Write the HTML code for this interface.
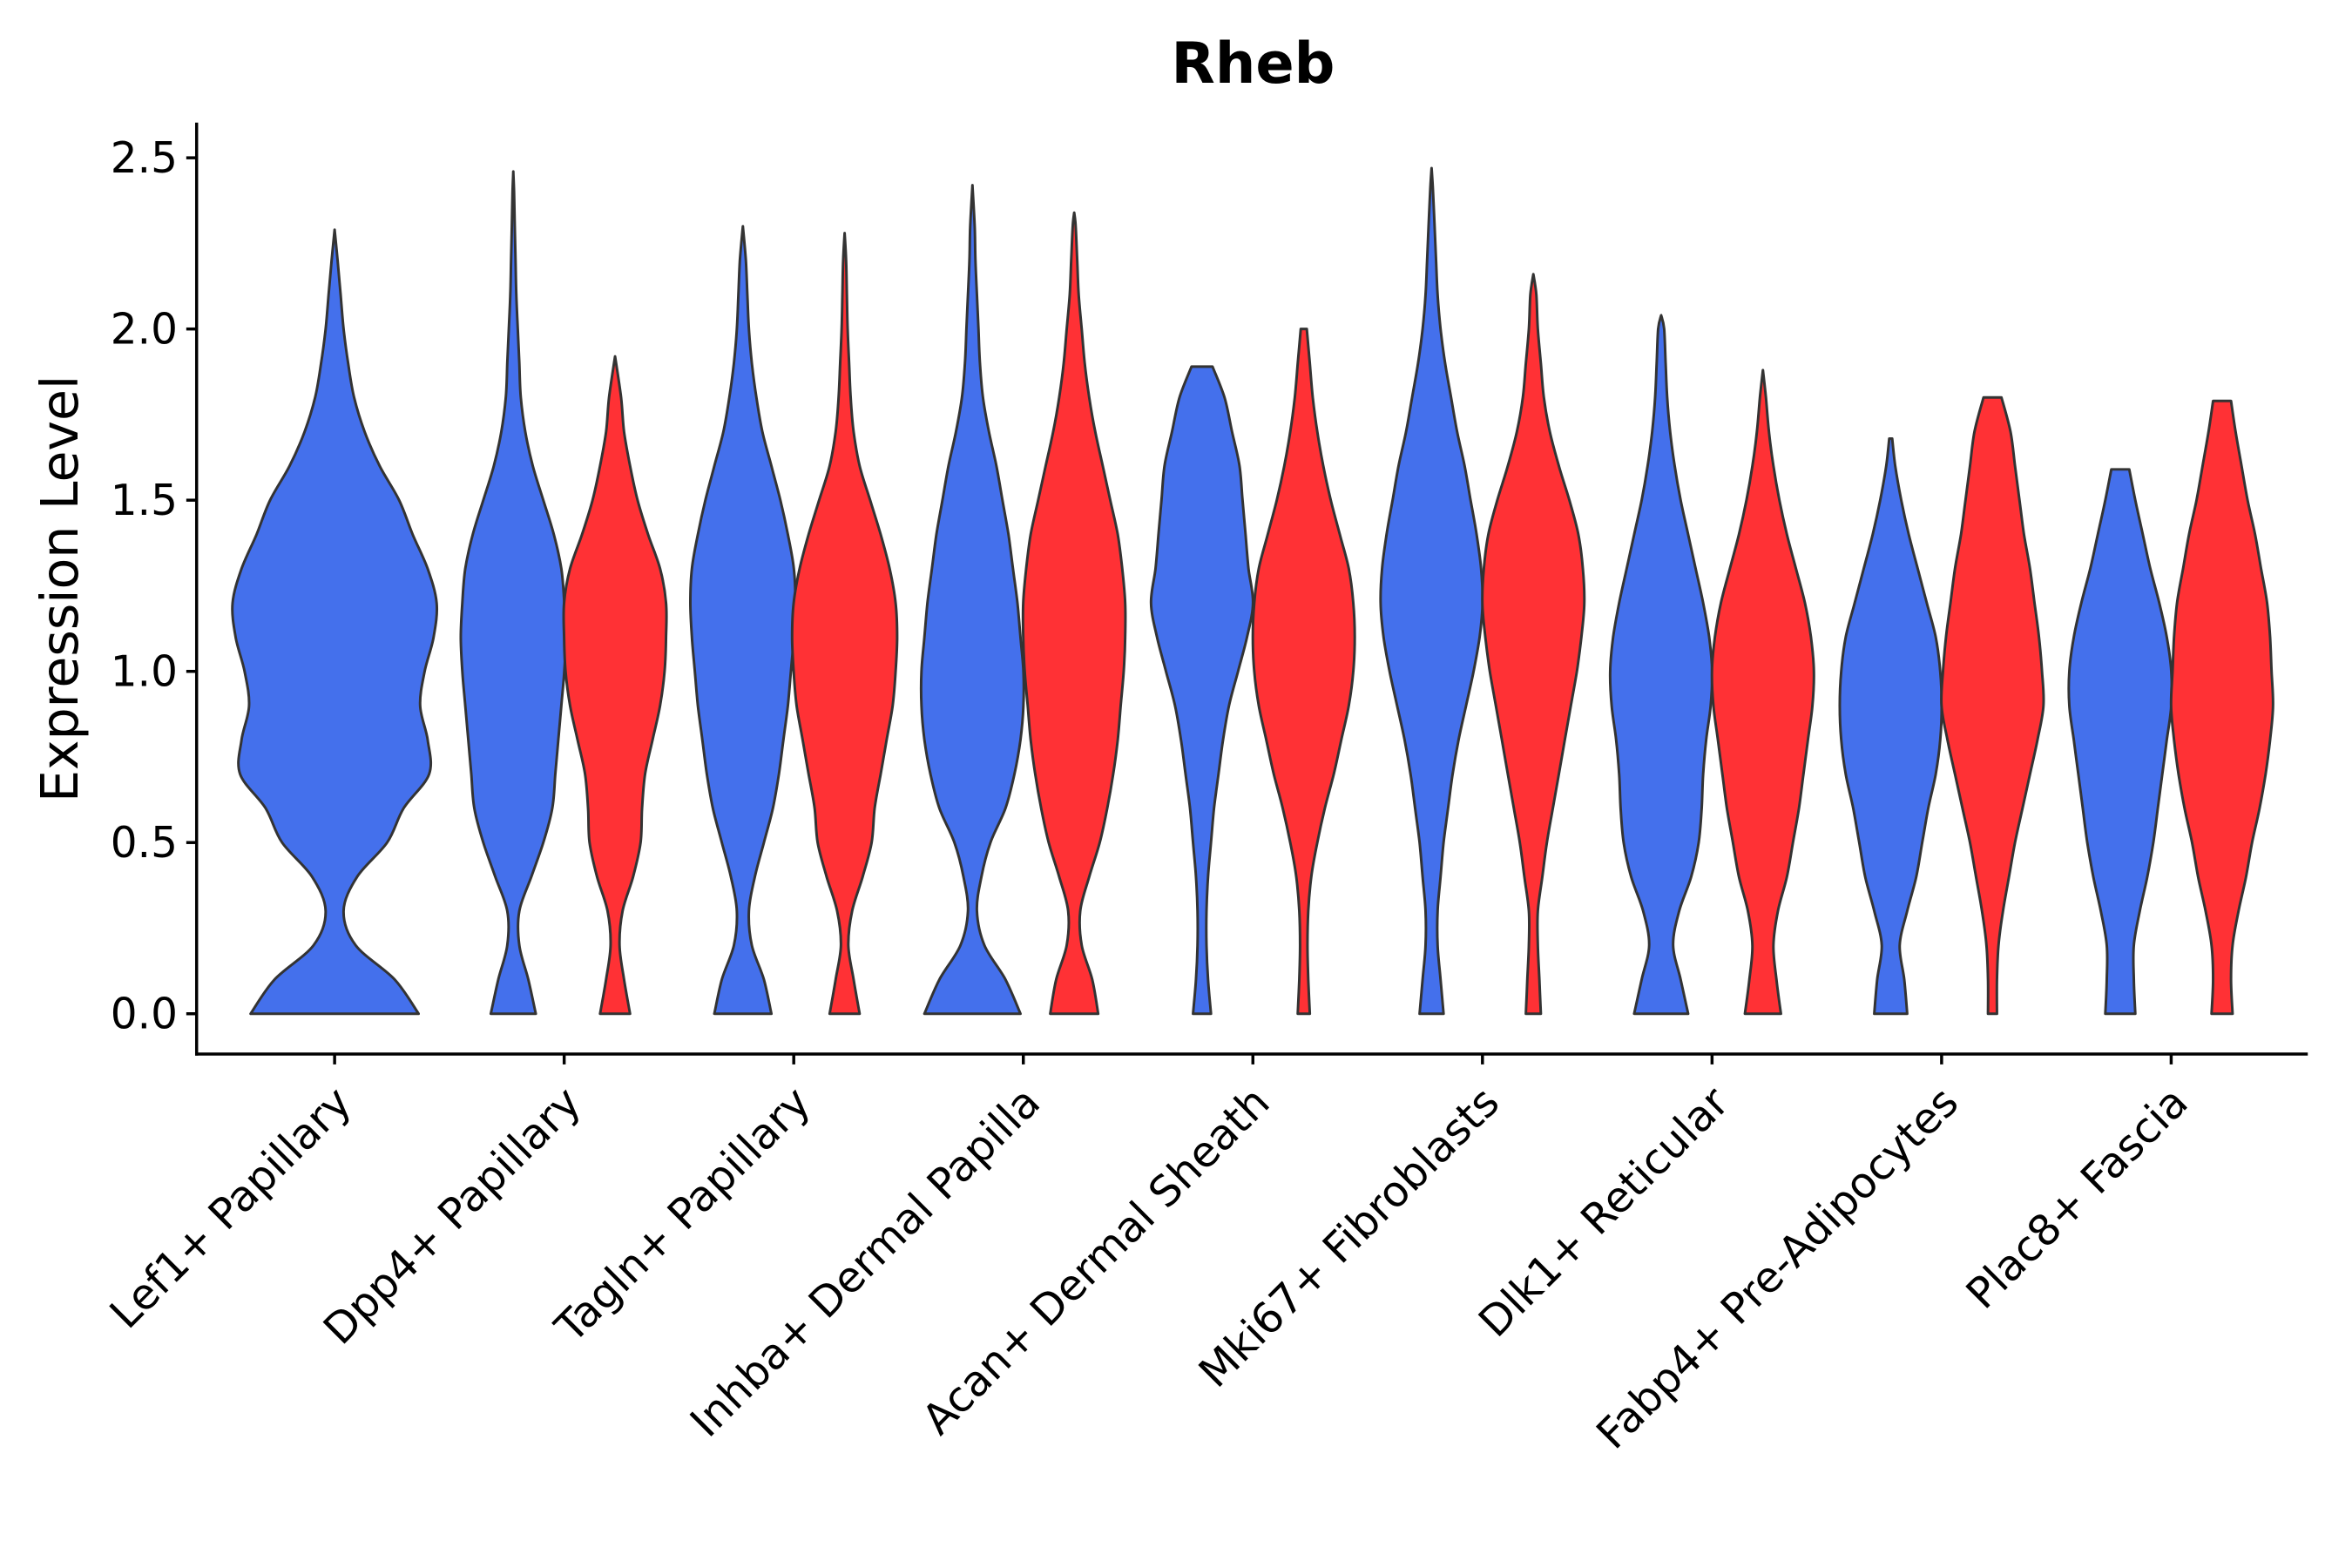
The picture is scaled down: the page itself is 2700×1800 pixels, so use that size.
<!DOCTYPE html>
<html><head><meta charset="utf-8">
<style>
html,body{margin:0;padding:0;background:#fff;}
svg{display:block;font-family:"DejaVu Sans","Liberation Sans",sans-serif;}
</style></head>
<body>
<svg id="chart" width="2700" height="1800" viewBox="0 0 2700 1800" xmlns="http://www.w3.org/2000/svg">
<rect width="2700" height="1800" fill="#fff"/>
<g transform="scale(0.99,0.991)">
<text x="1453" y="96" text-anchor="middle" font-weight="bold" font-size="66" fill="#000">Rheb</text>
<text transform="translate(90,682) rotate(-90)" text-anchor="middle" font-size="59" fill="#000">Expression Level</text>
<g id="violins"></g>
<g id="axes"></g>
</g>
</svg>
<script>
const categories = ["Lef1+ Papillary","Dpp4+ Papillary","Tagln+ Papillary","Inhba+ Dermal Papilla","Acan+ Dermal Sheath","Mki67+ Fibroblasts","Dlk1+ Reticular","Fabp4+ Pre-Adipocytes","Plac8+ Fascia"];
const yTicks = [0, 0.5, 1, 1.5, 2, 2.5];
const yTickLabels = ["0.0","0.5","1.0","1.5","2.0","2.5"];
// violin: category index, group (0 blue,1 red, -1 single), max value, densities at 0,0.1,0.2,... and last = width at max
const violinCat = [0,1,1,2,2,3,3,4,4,5,5,6,6,7,7,8,8];
const violinGroup = [-1,0,1,0,1,0,1,0,1,0,1,0,1,0,1,0,1];
const violinMax = [2.29,2.46,1.92,2.30,2.28,2.42,2.34,1.89,2.00,2.47,2.16,2.04,1.88,1.68,1.80,1.59,1.79];
const violinDensity = [
 [56,40,14,6,15,35,46,63,62,57,60,66,68,62,52,43,30,20,13,9,6,4,2,0],
 [15,10,4,4,12,20,26,28,30,32,34,35,34,32,27,20,13,8,5,4,3,2,1.5,1,0.5,0],
 [10,6,3,5,12,17,18,20,25,30,33,34,34,30,22,15,10,6,4,2,0],
 [19,14,6,4,8,14,20,24,27,30,32,34,35,34,30,25,19,13,9,6,4,3,2,1.5,0],
 [10,6,2.5,5,12,18,20,24,28,32,34,35,34,30,24,17,10,6,4,3,2,1.5,1,0],
 [32,22,8,3,6,12,22,28,32,34,34,32,30,27,24,20,16,11,7,5,4,3,2,1.5,1,0],
 [16,12,5,4,10,17,22,26,29,31,33,34,34,32,29,24,19,14,10,7,5,3,2,1,0],
 [6,4,3,3,4,6,8,11,14,18,24,30,34,31,29,27,25,20,15,7],
 [4,3,2.5,3,5,9,14,20,25,30,33,34,33,30,24,18,13,9,6,4,2,2],
 [8,6,4,4,6,8,11,14,18,23,28,32,34,33,30,26,22,17,13,9,6,4,3,2,1,0.5,0],
 [5,4,3,3,6,9,13,17,21,25,29,32,34,33,30,24,17,11,7,5,3,2,0],
 [18,13,8,12,20,25,27,28,30,33,34,32,28,23,18,13,9,6,4,3,2,0],
 [12,9,7,10,16,20,24,27,30,33,34,32,28,22,16,11,7,4,2,0],
 [11,9,6,11,17,21,25,30,33,34,33,30,24,18,12,7,3,1],
 [3,3,4,7,11,15,20,25,30,34,33,31,28,25,21,18,15,12,8,6],
 [10,9,9,13,18,22,25,28,31,34,34,31,26,20,15,10,6],
 [7,6,7,11,16,20,25,29,32,34,33,32,30,26,22,17,13,9,6]
];
const colors = ["#4470EC","#FF3135"];

const S = 1.7397;
const x0 = 388, step = 266.2, off = 59;
const yZero = 1174.3, yPerUnit = 396.6;
function xScale(i){ return x0 + i*step; }
function yScale(v){ return yZero - v*yPerUnit; }
const NS = "http://www.w3.org/2000/svg";
const vg = document.getElementById('violins');
const ag = document.getElementById('axes');

function sidePath(pts){
  let d = "";
  for(let i=0;i<pts.length-1;i++){
    const p0=pts[Math.max(0,i-1)], p1=pts[i], p2=pts[i+1], p3=pts[Math.min(pts.length-1,i+2)];
    const c1=[p1[0]+(p2[0]-p0[0])/6, p1[1]+(p2[1]-p0[1])/6];
    const c2=[p2[0]-(p3[0]-p1[0])/6, p2[1]-(p3[1]-p1[1])/6];
    d += ` C${c1[0].toFixed(1)},${c1[1].toFixed(1)} ${c2[0].toFixed(1)},${c2[1].toFixed(1)} ${p2[0].toFixed(1)},${p2[1].toFixed(1)}`;
  }
  return d;
}

for(let k=0;k<violinCat.length;k++){
  const g = violinGroup[k];
  const cx = xScale(violinCat[k]) + (g<0?0:(g===0?-off:off));
  const dens = violinDensity[k], mx = violinMax[k];
  const vals = [];
  for(let j=0;j<dens.length-1;j++){ const v=j*0.1; if(v<mx-0.02) vals.push([v,dens[j]]); }
  vals.push([mx, dens[dens.length-1]]);
  const right = vals.map(p=>[cx+p[1]*S, yScale(p[0])]);
  const left = vals.slice().reverse().map(p=>[cx-p[1]*S, yScale(p[0])]);
  let d = `M${left[left.length-1][0].toFixed(1)},${left[left.length-1][1].toFixed(1)} L${right[0][0].toFixed(1)},${right[0][1].toFixed(1)}`;
  d += sidePath(right);
  d += ` L${left[0][0].toFixed(1)},${left[0][1].toFixed(1)}`;
  d += sidePath(left) + " Z";
  const p = document.createElementNS(NS,'path');
  p.setAttribute('d', d);
  p.setAttribute('fill', colors[g<0?0:g]);
  p.setAttribute('stroke', '#333');
  p.setAttribute('stroke-width', '3');
  p.setAttribute('stroke-linejoin', 'round');
  
  
  vg.appendChild(p);
}

function line(x1,y1,x2,y2,name){
  const l=document.createElementNS(NS,'line');
  l.setAttribute('x1',x1);l.setAttribute('y1',y1);l.setAttribute('x2',x2);l.setAttribute('y2',y2);
  l.setAttribute('stroke','#000');l.setAttribute('stroke-width','3.5');
  
  
  ag.appendChild(l);
}
function text(x,y,str,anchor,name,tr){
  const t=document.createElementNS(NS,'text');
  t.setAttribute('x',x);t.setAttribute('y',y);t.setAttribute('text-anchor',anchor);
  t.setAttribute('font-size','49');t.setAttribute('fill','#000');
  if(tr) t.setAttribute('transform',tr);
  t.textContent=str;
  
  
  ag.appendChild(t);
}
const spineL = 228, spineB = 1221;
line(spineL,142,spineL,spineB+1.7,'y-axis-line');
line(spineL-1.7,spineB,2676,spineB,'x-axis-line');
yTicks.forEach((v,i)=>{
  const y=yScale(v);
  line(spineL-12,y,spineL,y,'y-tick');
  text(spineL-22,y+17,yTickLabels[i],'end','y-tick-label');
});
categories.forEach((c,i)=>{
  const x=xScale(i);
  line(x,spineB,x,spineB+12,'x-tick');
  const ax=x+22, ay=1280;
  text(ax,ay,c,'end','x-tick-label',`rotate(-45 ${ax} ${ay})`);
});
</script>
</body></html>
